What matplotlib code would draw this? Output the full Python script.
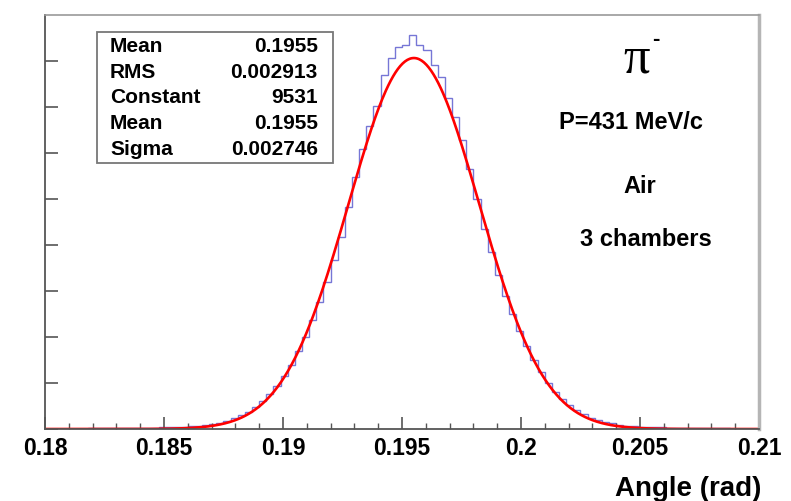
import numpy as np
import matplotlib
matplotlib.use("Agg")
import matplotlib.pyplot as plt
from matplotlib.patches import Rectangle

# ------------------------------
# Histogram data (100 bins, 0.18 - 0.21 rad)
# ------------------------------
bin_lo, bin_hi, n_bins = 0.18, 0.21, 100

counts = [
    6, 8, 7, 10, 11, 13, 14, 15, 19, 20,
    23, 24, 28, 31, 32, 38, 41, 43, 49, 58,
    69, 85, 104, 132, 167, 212, 273, 350, 447, 568,
    713, 892, 1104, 1360, 1657, 2003, 2367, 2791, 3252, 3782,
    4347, 4937, 5714, 6466, 7185, 7780, 8290, 9100, 9531, 9810,
    9860, 10120, 9865, 9735, 9350, 9040, 8498, 8012, 7429, 6674,
    5922, 5138, 4542, 3967, 3424, 2951, 2513, 2135, 1772, 1459,
    1188, 961, 770, 614, 484, 379, 295, 230, 180, 142,
    112, 90, 73, 61, 52, 46, 41, 37, 33, 30,
    27, 24, 22, 19, 17, 15, 13, 12, 10, 9,
]

# Gaussian fit parameters (from the stats box)
fit_constant = 9531
fit_mean = 0.1955
fit_sigma = 0.002746

stat_labels = ["Mean", "RMS", "Constant", "Mean", "Sigma"]
stat_values = ["0.1955", "0.002913", "9531", "0.1955", "0.002746"]

x_ticks = [0.18, 0.185, 0.19, 0.195, 0.2, 0.205, 0.21]
x_ticklabels = ["0.18", "0.185", "0.19", "0.195", "0.2", "0.205", "0.21"]

plt.rcParams["font.family"] = ["Liberation Sans", "DejaVu Sans"]

fig = plt.figure(figsize=(7.91, 5.01), dpi=100)
ax = fig.add_axes([0.0569, 0.1437, 0.9026, 0.8263])

edges = np.linspace(bin_lo, bin_hi, n_bins + 1)
ax.stairs(counts, edges, color="#7676d6", linewidth=1.0)

xf = np.linspace(bin_lo, bin_hi, 600)
yf = fit_constant * np.exp(-0.5 * ((xf - fit_mean) / fit_sigma) ** 2)
ax.plot(xf, yf, color="red", linewidth=1.9)

ax.set_xlim(bin_lo, bin_hi)
ax.set_ylim(0, 10636)

# axes styling (ROOT look)
ax.set_xticks(x_ticks)
ax.set_xticklabels(x_ticklabels, fontsize=16.5, fontweight="bold")
ax.set_xticks(np.arange(0.18, 0.2101, 0.001), minor=True)
ax.set_yticks(np.arange(0, 10000, 1182))
ax.set_yticklabels([])
ax.tick_params(axis="both", which="major", direction="in", length=9, width=1.2,
               color="#555555", pad=6)
ax.tick_params(axis="x", which="minor", direction="in", length=4.5, width=1.0,
               color="#555555")
ax.tick_params(axis="y", which="minor", length=0)

ax.spines["left"].set_color("#555555")
ax.spines["bottom"].set_color("#555555")
ax.spines["left"].set_linewidth(1.3)
ax.spines["bottom"].set_linewidth(1.3)
ax.spines["top"].set_color("#9a9a9a")
ax.spines["top"].set_linewidth(1.2)
ax.spines["right"].set_color("#b5b5b5")
ax.spines["right"].set_linewidth(2.5)

fig.text(0.963, 0.024, "Angle (rad)", ha="right", va="center",
         fontsize=20, fontweight="bold")

# stats box
ax.add_patch(Rectangle((0.0728, 0.6425), 0.3306, 0.3165, transform=ax.transAxes,
                       facecolor="white", edgecolor="#777777", linewidth=1.3,
                       zorder=5))
row_y = [0.923, 0.862, 0.800, 0.737, 0.676]
for lab, val, yy in zip(stat_labels, stat_values, row_y):
    ax.text(0.091, yy, lab, transform=ax.transAxes, ha="left", va="center",
            fontsize=15, fontweight="bold", zorder=6)
    ax.text(0.382, yy, val, transform=ax.transAxes, ha="right", va="center",
            fontsize=15, fontweight="bold", zorder=6)

# annotations
ax.text(0.828, 0.893, "\u03c0", transform=ax.transAxes, ha="center", va="center",
        fontsize=38, family="Liberation Serif")
ax.text(0.855, 0.940, "-", transform=ax.transAxes, ha="center", va="center",
        fontsize=16, fontweight="bold")
ax.text(0.821, 0.741, "P=431 MeV/c", transform=ax.transAxes, ha="center",
        va="center", fontsize=17, fontweight="bold")
ax.text(0.833, 0.585, "Air", transform=ax.transAxes, ha="center",
        va="center", fontsize=17, fontweight="bold")
ax.text(0.842, 0.457, "3 chambers", transform=ax.transAxes, ha="center",
        va="center", fontsize=17, fontweight="bold")

fig.savefig("out.png", dpi=100)
